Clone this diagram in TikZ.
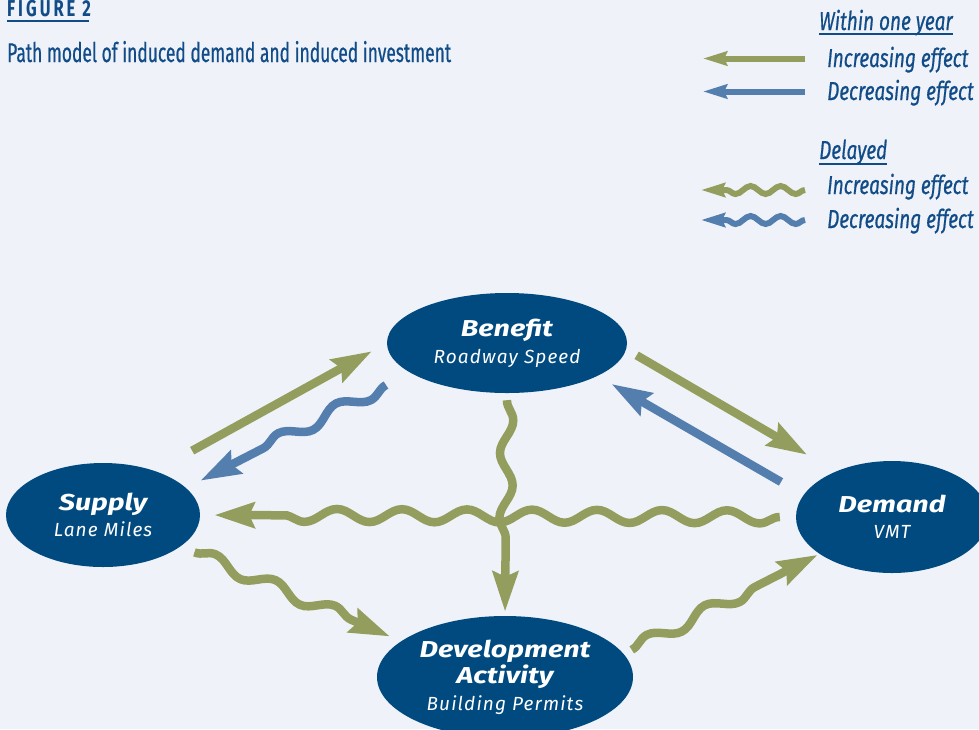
\documentclass[tikz,border=0pt]{standalone}
\usepackage{fontspec}
\usetikzlibrary{arrows.meta,shapes.geometric,decorations.pathmorphing,calc}
\setmainfont{Fira Sans}
\newfontfamily\condfont{Fira Sans}[FakeStretch=0.73,FakeBold=0.6]
\newfontfamily\titlefont{Fira Sans}[FakeStretch=0.645,FakeBold=0.6]
\newfontfamily\figfont{Fira Sans}[FakeStretch=0.72,LetterSpace=13]
\newfontfamily\labelfont{Fira Sans}[FakeStretch=1.25]
\newfontfamily\subfont{Fira Sans}[LetterSpace=6]

\definecolor{bgblue}{RGB}{239,243,249}
\definecolor{ovalblue}{RGB}{0,74,128}
\definecolor{incgreen}{RGB}{147,158,94}
\definecolor{decblue}{RGB}{84,126,174}
\definecolor{textblue}{RGB}{18,76,136}

\begin{document}
\begin{tikzpicture}[x=1pt,y=-1pt,
            oval/.style={ellipse, fill=ovalblue, text=white, align=center, inner sep=0pt},
            incr/.style={draw=incgreen, line width=8.5pt, -{Stealth[length=40pt,width=25pt,inset=5pt]}},
            decr/.style={draw=decblue, line width=8.5pt, -{Stealth[length=40pt,width=25pt,inset=5pt]}},
            wavy/.style={decorate, decoration={snake, amplitude=6.5pt, segment length=65pt, post length=#1}},
            legincr/.style={draw=incgreen, line width=6pt, -{Stealth[length=24pt,width=14pt,inset=3pt]}},
            legdecr/.style={draw=decblue, line width=6pt, -{Stealth[length=24pt,width=14pt,inset=3pt]}},
            legwavy/.style={decorate, decoration={snake, amplitude=4pt, segment length=30pt, post length=24pt}},
            legtext/.style={anchor=base west, inner sep=0pt, text=textblue, font=\condfont\itshape\fontsize{26}{28}\selectfont},
            headline/.style={anchor=base west, inner sep=0pt, text=textblue}
          ]
          \useasboundingbox (0,0) rectangle (979,729);
          \fill[bgblue] (0,0) rectangle (979,729);

          %Title
          \node[headline, font=\figfont\bfseries\fontsize{23}{26}\selectfont] (fig) at (7,16) {FIGURE 2};
          \draw[textblue, line width=2pt] ([yshift=-5pt]fig.base west) -- ([yshift=-5pt,xshift=-2pt]fig.base east);
          \node[headline, font=\titlefont\fontsize{27}{30}\selectfont] (title) at (7,62) {Path model of induced demand and induced investment};

          %Nodes
          \node[oval, minimum width=240pt, minimum height=100pt, font=\fontsize{19}{27}\selectfont] (benefit) at (507,343)
            {{\labelfont\bfseries\itshape\fontsize{23}{27}\selectfont Benefit}\\{\subfont\itshape Roadway Speed}};
          \node[oval, minimum width=194pt, minimum height=104pt, font=\fontsize{19}{26}\selectfont] (supply) at (103,515)
            {{\labelfont\bfseries\itshape\fontsize{23}{26}\selectfont Supply}\\{\subfont\itshape Lane Miles}};
          \node[oval, minimum width=192pt, minimum height=112pt, font=\fontsize{19}{26}\selectfont] (demand) at (892,517)
            {{\labelfont\bfseries\itshape\fontsize{23}{26}\selectfont Demand}\\{\subfont\itshape VMT}};
          \node[oval, minimum width=256pt, minimum height=122pt, font=\fontsize{19}{26.5}\selectfont] (develop) at (505,677)
            {{\labelfont\bfseries\itshape\fontsize{23}{26.5}\selectfont Development}\\{\labelfont\bfseries\itshape\fontsize{23}{26.5}\selectfont Activity}\\{\subfont\itshape Building Permits}};

          %Lines
          \draw[incr, shorten <=42pt, shorten >=17pt] (supply.40) -- (benefit.180);
          \draw[decr, wavy=42pt] ($(benefit.197)!27pt!(supply.18)$) -- ($(supply.18)!16pt!(benefit.197)$);
          \draw[incr, shorten <=12pt, shorten >=33pt] (benefit.357) -- (demand.141);
          \draw[decr, shorten <=26pt, shorten >=16pt] (demand.166) -- (benefit.340);
          \draw[incr, wavy=42pt] ($(demand.west)!16pt!(supply.east)$) -- ($(supply.east)!14pt!(demand.west)$);
          \draw[incr, wavy=44pt] ($(benefit.south)!7pt!(develop.north)$) -- ($(develop.north)!4pt!(benefit.south)$);
          \draw[incr, wavy=42pt] ($(supply.338)!15pt!(develop.161)$) -- ($(develop.161)!12pt!(supply.338)$);
          \draw[incr, wavy=42pt] ($(develop.11)!9pt!(demand.207)$) -- ($(demand.207)!2pt!(develop.11)$);

          %Legend
          \node[legtext] (within) at (819,30) {Within one year};
          \draw[textblue, line width=1.8pt] ([yshift=-4pt]within.base west) -- ([yshift=-4pt]within.base east);
          \node[legtext] (incA) at (827,67) {Increasing effect};
          \node[legtext] (decA) at (827,100) {Decreasing effect};
          \node[legtext] (delayed) at (819,159) {Delayed};
          \draw[textblue, line width=1.8pt] ([yshift=-5pt]delayed.base west) -- ([yshift=-5pt]delayed.base east);
          \node[legtext] (incB) at (827,194) {Increasing effect};
          \node[legtext] (decB) at (827,228) {Decreasing effect};

          \coordinate (incAtail) at (805,58.5);
          \coordinate (incAtip) at (703,58.5);
          \coordinate (decAtail) at (805,91.5);
          \coordinate (decAtip) at (703,91.5);
          \coordinate (incBtail) at (805,190);
          \coordinate (incBtip) at (701,190);
          \coordinate (decBtail) at (805,220);
          \coordinate (decBtip) at (701,220);
          \draw[legincr] (incAtail) -- (incAtip);
          \draw[legdecr] (decAtail) -- (decAtip);
          \draw[legincr, legwavy] (incBtail) -- (incBtip);
          \draw[legdecr, legwavy] (decBtail) -- (decBtip);

        \end{tikzpicture}
\end{document}
